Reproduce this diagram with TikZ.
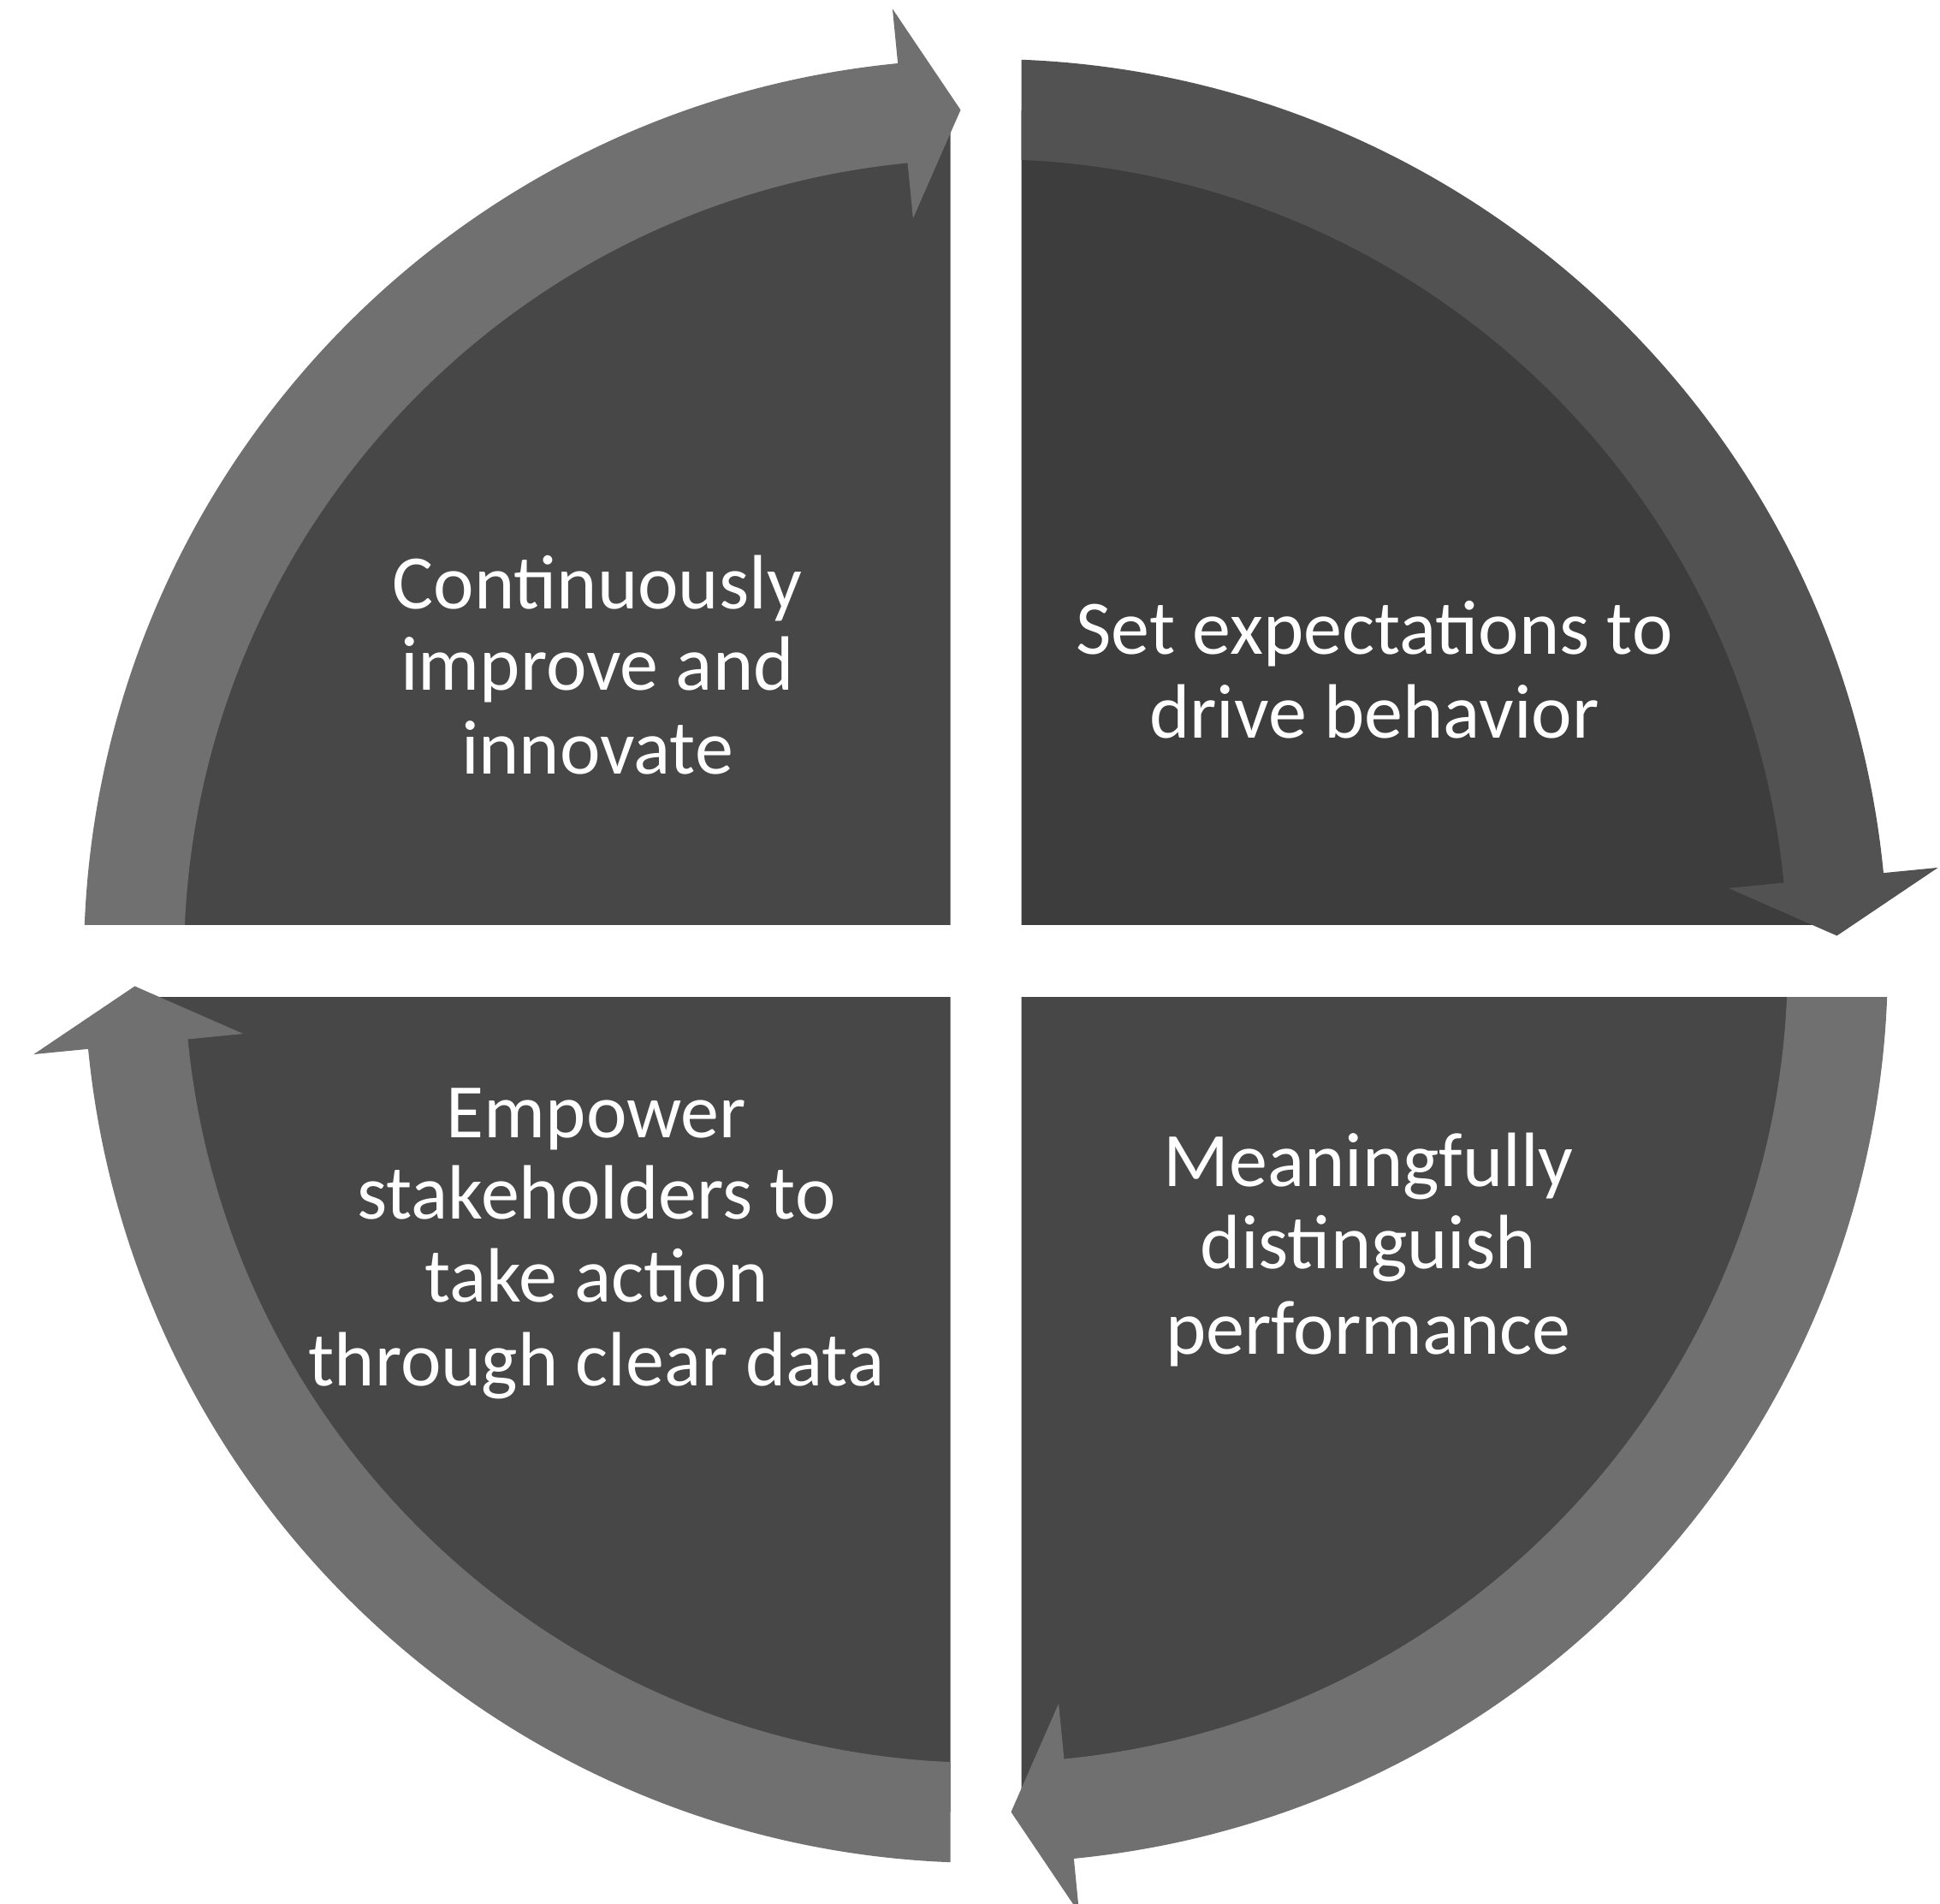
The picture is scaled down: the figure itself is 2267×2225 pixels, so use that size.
\documentclass[tikz,border=0pt]{standalone}
\usepackage{fontspec}
\setmainfont{Carlito}
\usetikzlibrary{calc}
\definecolor{sectorgray}{gray}{0.28}
\definecolor{bandgray}{gray}{0.44}
\definecolor{sectordark}{gray}{0.24}
\definecolor{banddark}{gray}{0.32}
\begin{document}
\begin{tikzpicture}[x=0.01cm,y=0.01cm,
  inner/.style={fill=sectorgray},
  band/.style={fill=bandgray},
  innerdark/.style={fill=sectordark},
  banddk/.style={fill=banddark},
  txt/.style={text=white,font=\fontsize{25.6}{30}\selectfont,anchor=base,inner sep=0pt}]
\useasboundingbox (0,0) rectangle (2267,2225);
\fill[white] (0,0) rectangle (2267,2225);
\coordinate (C) at (1152,1102);
\def\Rout{1054}\def\Rin{937}\def\Rho{1118}\def\Rhi{872}\def\Rtip{995}
% annular band from start angle #2 to (slightly under) arrow-head back angle #3
\newcommand{\cycband}[3]{%
  \fill[#1] ($(C)+(#2:\Rout)$) arc[start angle=#2,end angle=#3,radius=\Rout]
    -- ($(C)+(#3:\Rin)$) arc[start angle=#3,end angle=#2,radius=\Rin] -- cycle;}
% arrow head: style #1, back angle #2, tip angle #3
\newcommand{\cychead}[3]{%
  \fill[#1] ($(C)+(#2:\Rho)$) -- ($(C)+(#3:\Rtip)$) -- ($(C)+(#2:\Rhi)$) -- cycle;}
% top-left quadrant
\begin{scope}
  \clip (0,1144.5) rectangle (1110.5,2225);
  \fill[inner] (C) circle[radius=\Rtip];
  \cycband{band}{181}{95.1}
\end{scope}
\cychead{band}{95.6}{91.7}
% top-right quadrant
\begin{scope}
  \clip (1193.5,1144.5) rectangle (2267,2225);
  \fill[innerdark] (C) circle[radius=\Rtip];
  \cycband{banddk}{91}{5.1}
\end{scope}
\cychead{banddk}{5.6}{1.7}
% bottom-right quadrant
\begin{scope}
  \clip (1193.5,0) rectangle (2267,1059.5);
  \fill[inner] (C) circle[radius=\Rtip];
  \cycband{band}{1}{-84.9}
\end{scope}
\cychead{band}{-84.4}{-88.3}
% bottom-left quadrant
\begin{scope}
  \clip (0,0) rectangle (1110.5,1059.5);
  \fill[inner] (C) circle[radius=\Rtip];
  \cycband{band}{-89}{-174.9}
\end{scope}
\cychead{band}{-174.4}{-178.3}
% texts
\node[txt] (tl1) at (698,1513) {Continuously};
\node[txt] (tl2) at (698,1418) {improve and};
\node[txt] (tl3) at (698,1320) {innovate};
\node[txt] (tr1) at (1606,1460) {Set expectations to};
\node[txt] (tr2) at (1606,1362) {drive behavior};
\node[txt] (bl1) at (697,895) {Empower};
\node[txt] (bl2) at (697,800) {stakeholders to};
\node[txt] (bl3) at (697,703) {take action};
\node[txt] (bl4) at (697,605) {through clear data};
\node[txt] (br1) at (1599,838) {Meaningfully};
\node[txt] (br2) at (1599,742) {distinguish};
\node[txt] (br3) at (1599,642) {performance};
\end{tikzpicture}
\end{document}
